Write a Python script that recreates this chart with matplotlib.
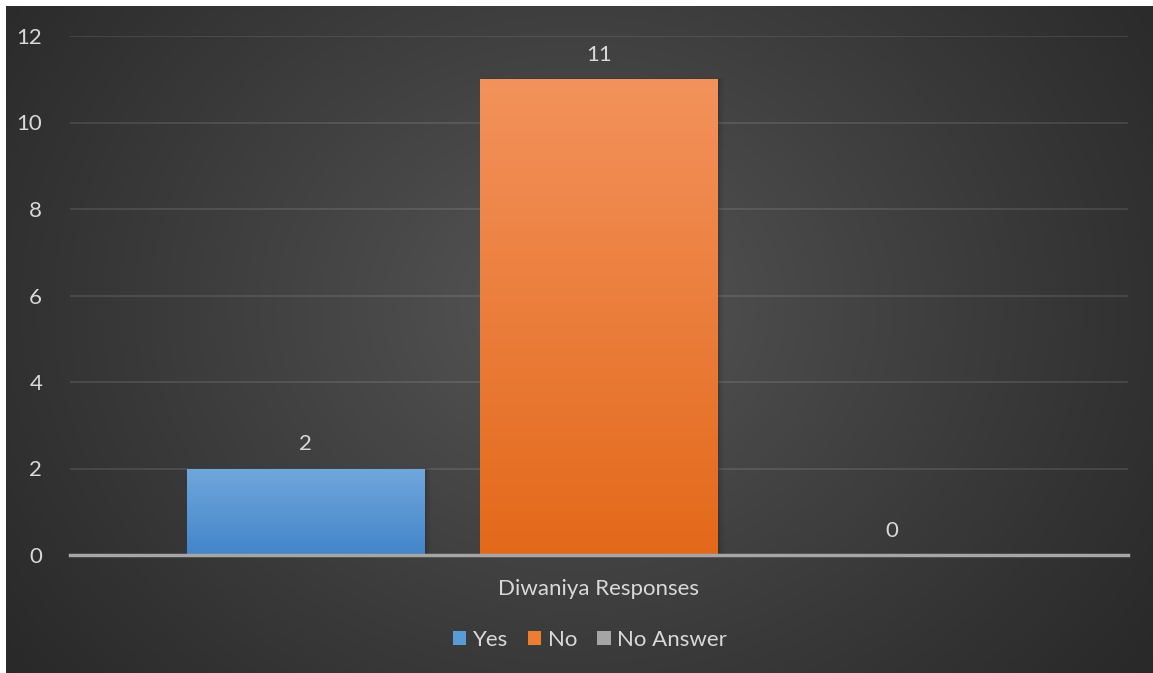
import matplotlib.pyplot as plt
import numpy as np
from matplotlib.patches import Patch
from matplotlib.colors import to_rgb

# Survey counts
category = 'Diwaniya Responses'
labels = ['Yes', 'No', 'No Answer']
values = [2, 11, 0]
top_colors = ['#70a7dd', '#f3925c', '#b0b0b0']
bottom_colors = ['#4385c9', '#e3691a', '#909090']
legend_colors = ['#5b9bd5', '#ed7d31', '#a5a5a5']

plt.rcParams['font.family'] = ['Lato', 'DejaVu Sans']
txt = '#d9d9d9'
fs = 16

W, H = 1153, 673
fig = plt.figure(figsize=(W / 100, H / 100), dpi=100, facecolor='white')

# dark radial background panel
bw, bh = W - 6, H - 6
bg = fig.add_axes([6 / W, 0, bw / W, bh / H], zorder=0)
yy, xx = np.mgrid[0:bh, 0:bw]
cx, cy = 570, 300
r = np.sqrt(((xx - cx) / 620) ** 2 + ((yy - cy) / 520) ** 2)
shade = np.clip(1 - r / 1.25, 0, 1) ** 1.1
c0 = np.array([0x26, 0x26, 0x26]) / 255
c1 = np.array([0x56, 0x56, 0x56]) / 255
img = c0 + (c1 - c0) * shade[..., None]
bg.imshow(img, extent=[0, 1, 0, 1], aspect='auto', interpolation='nearest')
bg.set_axis_off()

ax = fig.add_axes([70 / W, (H - 555) / H, (1128 - 70) / W, (555 - 36) / H], zorder=1)
ax.patch.set_alpha(0)

x = np.arange(len(values)) - 1
width = 0.81
bars = ax.bar(x, values, width=width, color='none', zorder=3)
for b, top, bot in zip(bars, top_colors, bottom_colors):
    h = b.get_height()
    if h <= 0:
        continue
    grad = np.linspace(0, 1, 256)[:, None, None]
    t = np.array(to_rgb(top))
    bcol = np.array(to_rgb(bot))
    g = np.repeat(t + (bcol - t) * grad, 2, axis=1)
    # soft shadow behind the bar
    for k, a in enumerate([0.07, 0.05, 0.03]):
        off = 0.005 * (k + 1)
        ax.add_patch(plt.Rectangle((b.get_x() + off * 0.5, 0), b.get_width() + off,
                                   h + off * 2, color='black', alpha=a, lw=0, zorder=2))
    im = ax.imshow(g, extent=[b.get_x(), b.get_x() + b.get_width(), 0, h],
                   aspect='auto', zorder=3)
    im.set_clip_path(b)

for xi, v in zip(x, values):
    ax.text(xi, v + 0.33, str(v), ha='center', va='bottom', color=txt, fontsize=fs)

ax.set_xlim(-1.805, 1.805)
ax.set_ylim(0, 12)
ax.set_yticks(range(0, 13, 2))
ax.yaxis.grid(True, color='white', alpha=0.12, lw=1.2)
ax.set_axisbelow(True)
for s in ['top', 'right', 'left']:
    ax.spines[s].set_visible(False)
ax.spines['bottom'].set_color('#a6a6a6')
ax.spines['bottom'].set_linewidth(2.5)
ax.spines['bottom'].set_zorder(4)
ax.tick_params(axis='y', length=0, pad=20, labelcolor=txt, labelsize=fs)
ax.set_xticks([0])
ax.set_xticklabels([category])
ax.tick_params(axis='x', length=0, pad=17, labelcolor=txt, labelsize=fs)

handles = [Patch(facecolor=c, edgecolor='none', label=l) for c, l in zip(legend_colors, labels)]
fig.legend(handles=handles, loc='center', bbox_to_anchor=(590 / W, 1 - 640 / H), ncol=3,
           frameon=False, fontsize=fs, labelcolor=txt, handlelength=0.6,
           handleheight=0.6, handletextpad=0.3, columnspacing=0.9)

fig.savefig('out.png', dpi=100, facecolor='white')
